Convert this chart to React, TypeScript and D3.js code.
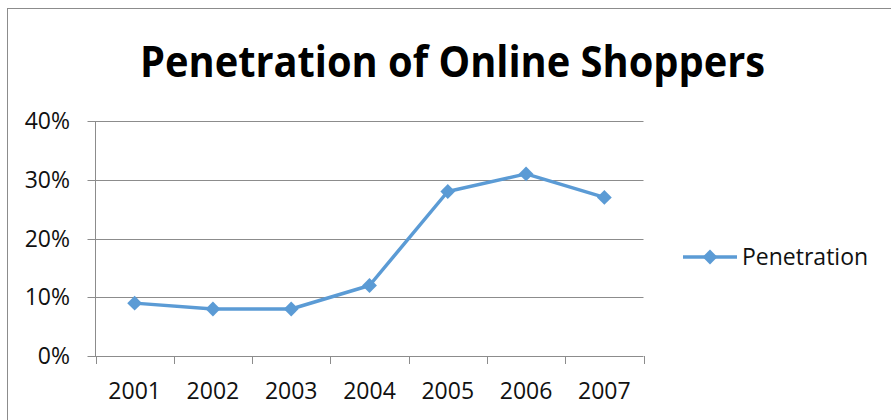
import React, { useEffect, useRef } from "react";
import * as d3 from "d3";

// chart data
const years = ["2001", "2002", "2003", "2004", "2005", "2006", "2007"];
const penetration = [0.09, 0.08, 0.08, 0.12, 0.28, 0.31, 0.27];
const yTicks = [0, 0.1, 0.2, 0.3, 0.4];
const seriesName = "Penetration";
const title = "Penetration of Online Shoppers";

const blue = "#5B9BD5";
const font = "'Open Sans', 'Noto Sans', sans-serif";

export default function App() {
	const svgRef = useRef<SVGSVGElement | null>(null);

	useEffect(() => {
		if (!svgRef.current) return;
		const width = 891;
		const height = 420;
		const plot = { left: 95.5, right: 643.5, top: 121, bottom: 356 };

		const svg = d3.select(svgRef.current);
		svg.selectAll("*").remove();

		// outer chart frame
		svg.append("rect")
			.attr("x", 7.5)
			.attr("y", 8.5)
			.attr("width", width)
			.attr("height", height)
			.attr("fill", "white")
			.attr("stroke", "#8c8c8c")
			.attr("stroke-width", 1);

		const x = d3.scaleBand<string>().domain(years).range([plot.left, plot.right]);
		const y = d3.scaleLinear().domain([0, 0.4]).range([plot.bottom, plot.top]);

		// title
		svg.append("text")
			.attr("x", 452.5)
			.attr("y", 77)
			.attr("text-anchor", "middle")
			.attr("font-family", font)
			.attr("font-weight", "bold")
			.attr("font-size", 43)
			.attr("textLength", 625)
			.attr("lengthAdjust", "spacingAndGlyphs")
			.text(title);

		// gridlines + y labels
		const grid = svg.append("g");
		grid.selectAll("line")
			.data(yTicks)
			.enter()
			.append("line")
			.attr("x1", plot.left - 8)
			.attr("x2", plot.right)
			.attr("y1", (d) => Math.round(y(d)) + 0.5)
			.attr("y2", (d) => Math.round(y(d)) + 0.5)
			.attr("stroke", "#8c8c8c")
			.attr("stroke-width", 1);

		grid.selectAll("text")
			.data(yTicks)
			.enter()
			.append("text")
			.attr("x", 70)
			.attr("y", (d) => y(d) + 8)
			.attr("text-anchor", "end")
			.attr("font-family", font)
			.attr("font-size", 23)
			.attr("fill", "#111")
			.text((d) => d3.format(".0%")(d));

		// y axis line
		svg.append("line")
			.attr("x1", plot.left)
			.attr("x2", plot.left)
			.attr("y1", plot.top)
			.attr("y2", plot.bottom)
			.attr("stroke", "#8c8c8c");

		// x ticks at band boundaries
		const bounds = years.map((yr) => x(yr)!).concat([plot.right]);
		svg.append("g")
			.selectAll("line")
			.data(bounds)
			.enter()
			.append("line")
			.attr("x1", (d) => Math.round(d) + 0.5)
			.attr("x2", (d) => Math.round(d) + 0.5)
			.attr("y1", plot.bottom)
			.attr("y2", plot.bottom + 8)
			.attr("stroke", "#8c8c8c");

		svg.append("g")
			.selectAll("text")
			.data(years)
			.enter()
			.append("text")
			.attr("x", (d) => x(d)! + x.bandwidth() / 2)
			.attr("y", 399)
			.attr("text-anchor", "middle")
			.attr("font-family", font)
			.attr("font-size", 23)
			.attr("fill", "#111")
			.text((d) => d);

		// the series
		const pts = years.map((yr, i) => ({ x: x(yr)! + x.bandwidth() / 2, y: y(penetration[i]) }));
		const line = d3.line<{ x: number; y: number }>().x((d) => d.x).y((d) => d.y);
		svg.append("path")
			.attr("d", line(pts)!)
			.attr("fill", "none")
			.attr("stroke", blue)
			.attr("stroke-width", 3.5)
			.attr("stroke-linejoin", "round");

		const diamond = d3.symbol().type(d3.symbolSquare).size(110);
		svg.append("g")
			.selectAll("path")
			.data(pts)
			.enter()
			.append("path")
			.attr("d", diamond()!)
			.attr("transform", (d) => `translate(${d.x},${d.y}) rotate(45)`)
			.attr("fill", blue);

		// legend
		const lg = svg.append("g").attr("transform", "translate(683,257)");
		lg.append("line").attr("x1", 0).attr("x2", 54).attr("y1", 0).attr("y2", 0).attr("stroke", blue).attr("stroke-width", 3.5);
		lg.append("path").attr("d", diamond()!).attr("transform", "translate(27,0) rotate(45)").attr("fill", blue);
		lg.append("text")
			.attr("x", 59)
			.attr("y", 8)
			.attr("font-family", font)
			.attr("font-size", 23)
			.attr("fill", "#111")
			.text(seriesName);
	}, []);

	return (
		<svg
			ref={svgRef}
			width={891}
			height={420}
			style={{ position: "absolute", left: 0, top: 0, display: "block" }}
		/>
	);
}
